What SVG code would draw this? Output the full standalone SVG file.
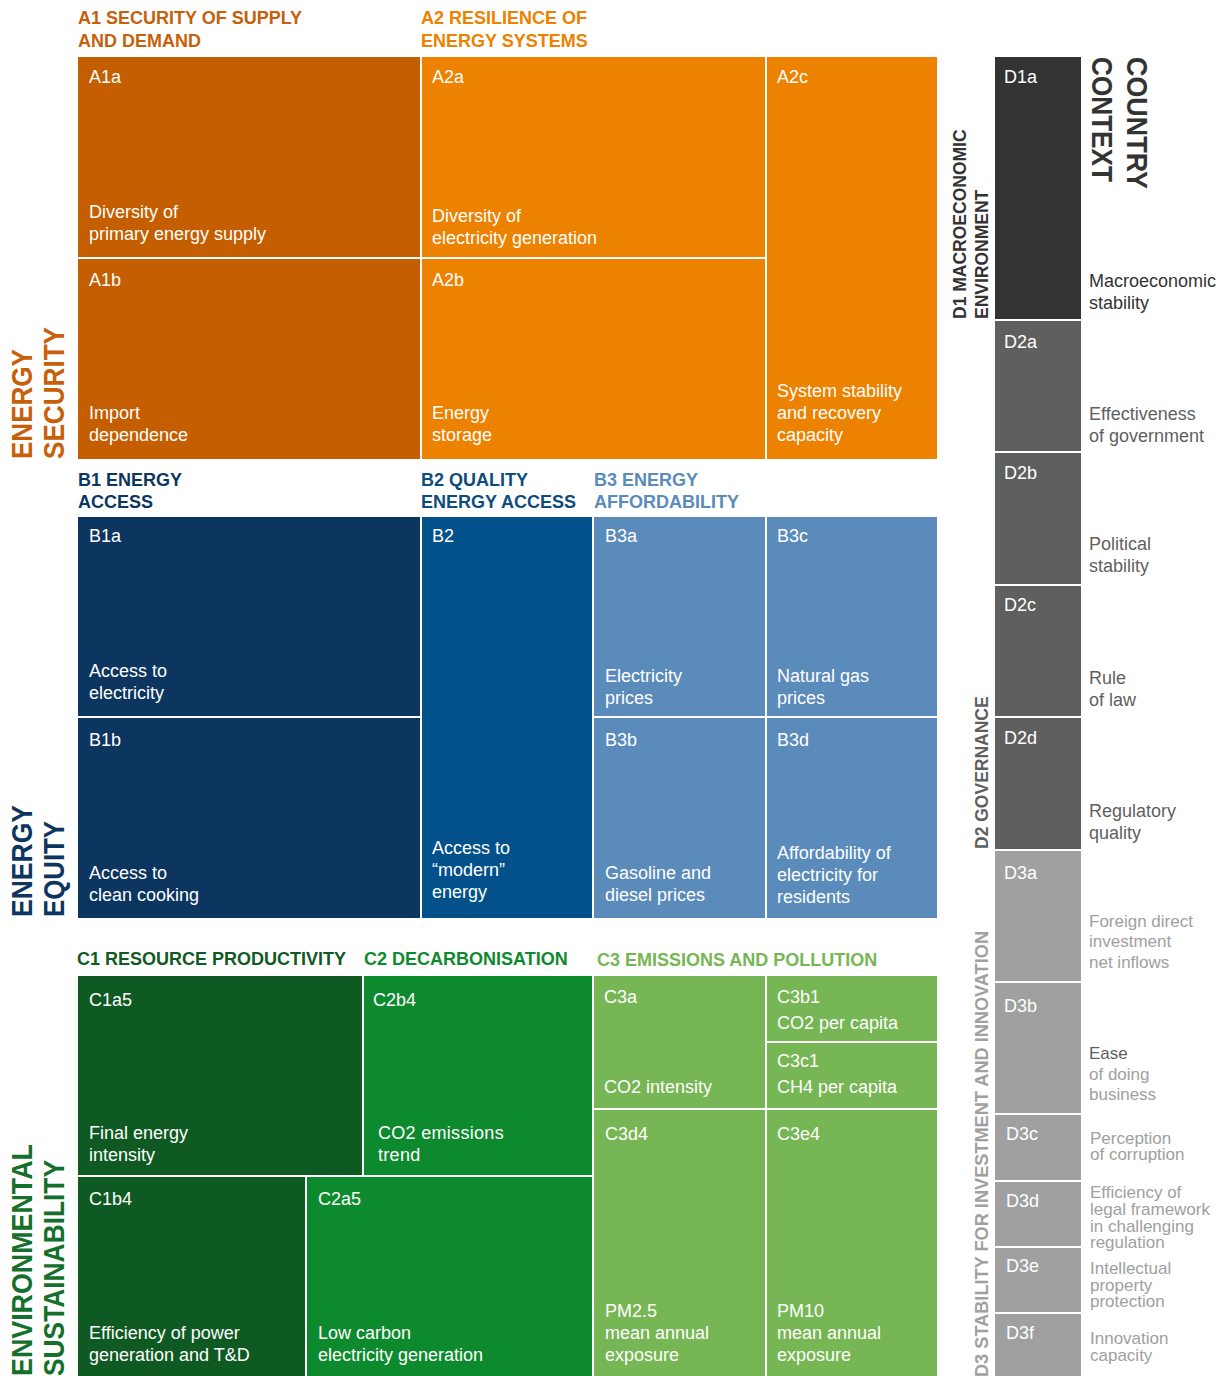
<svg xmlns="http://www.w3.org/2000/svg" width="1226" height="1376" viewBox="0 0 1226 1376">
<style>
text{font-family:"Liberation Sans",Arial,sans-serif}
.c{font-size:18px;fill:#fff}
.h{font-size:18px;font-weight:bold}
.big{font-size:30px;font-weight:bold}
.dh{font-size:17.5px;font-weight:bold}
.dl{font-size:18px}
.dl3{font-size:17px;fill:#a0a0a0}
rect{stroke:#fff;stroke-width:2}
.a1{fill:#c45e00}.a2{fill:#ec8200}
.b1{fill:#0c3660}.b2{fill:#02518a}.b3{fill:#5a8bbb}
.k1{fill:#0f5a22}.k2{fill:#0e8a2e}.k3{fill:#76b654}
.d1{fill:#333333}.d2{fill:#5f5f5f}.d3{fill:#a0a0a0}
</style>
<rect x="0" y="0" width="1226" height="1376" fill="#fff" stroke="none"/>

<g id="pillar-labels">
<text class="big" fill="#c8600a" transform="translate(32,459) rotate(-90)"><tspan x="0" y="0" textLength="110" lengthAdjust="spacingAndGlyphs">ENERGY</tspan><tspan x="0" y="32" textLength="132" lengthAdjust="spacingAndGlyphs">SECURITY</tspan></text>
<text class="big" fill="#0c3660" transform="translate(32,917) rotate(-90)"><tspan x="0" y="0" textLength="112" lengthAdjust="spacingAndGlyphs">ENERGY</tspan><tspan x="0" y="32" textLength="96" lengthAdjust="spacingAndGlyphs">EQUITY</tspan></text>
<text class="big" fill="#14702b" transform="translate(32,1376) rotate(-90)"><tspan x="0" y="0" textLength="232" lengthAdjust="spacingAndGlyphs">ENVIRONMENTAL</tspan><tspan x="0" y="32" textLength="216" lengthAdjust="spacingAndGlyphs">SUSTAINABILITY</tspan></text>
<text class="big" fill="#333" transform="translate(1127,57) rotate(90)"><tspan x="0" y="0" textLength="132" lengthAdjust="spacingAndGlyphs">COUNTRY</tspan><tspan x="0" y="35" textLength="125" lengthAdjust="spacingAndGlyphs">CONTEXT</tspan></text>
</g>

<g id="headings">
<text class="h" fill="#c6600a"><tspan x="78" y="24">A1 SECURITY OF SUPPLY</tspan><tspan x="78" y="47">AND DEMAND</tspan></text>
<text class="h" fill="#ec8200"><tspan x="421" y="24">A2 RESILIENCE OF</tspan><tspan x="421" y="47">ENERGY SYSTEMS</tspan></text>
<text class="h" fill="#0c3660"><tspan x="78" y="486">B1 ENERGY</tspan><tspan x="78" y="508">ACCESS</tspan></text>
<text class="h" fill="#0f4c7e"><tspan x="421" y="486">B2 QUALITY</tspan><tspan x="421" y="508">ENERGY ACCESS</tspan></text>
<text class="h" fill="#5a8bbb"><tspan x="594" y="486">B3 ENERGY</tspan><tspan x="594" y="508">AFFORDABILITY</tspan></text>
<text class="h" fill="#0f5a22" x="77" y="965">C1 RESOURCE PRODUCTIVITY</text>
<text class="h" fill="#0e8a2e" x="364" y="965">C2 DECARBONISATION</text>
<text class="h" fill="#76b654" x="597" y="966">C3 EMISSIONS AND POLLUTION</text>
<text class="dh" fill="#333" transform="translate(966,319) rotate(-90)"><tspan x="0" y="0">D1 MACROECONOMIC</tspan><tspan x="0" y="22">ENVIRONMENT</tspan></text>
<text class="dh" fill="#5f5f5f" transform="translate(988,849) rotate(-90)">D2 GOVERNANCE</text>
<text class="dh" fill="#a0a0a0" transform="translate(988,1377) rotate(-90)" textLength="446" lengthAdjust="spacingAndGlyphs">D3 STABILITY FOR INVESTMENT AND INNOVATION</text>
</g>

<g id="A1a"><rect class="a1" x="77" y="56" width="344" height="202"/><text class="c" x="89" y="83">A1a</text><text class="c"><tspan x="89" y="218">Diversity of</tspan><tspan x="89" y="240">primary energy supply</tspan></text></g>
<g id="A1b"><rect class="a1" x="77" y="258" width="344" height="202"/><text class="c" x="89" y="286">A1b</text><text class="c"><tspan x="89" y="419">Import</tspan><tspan x="89" y="441">dependence</tspan></text></g>
<g id="A2a"><rect class="a2" x="421" y="56" width="345" height="202"/><text class="c" x="432" y="83">A2a</text><text class="c"><tspan x="432" y="222">Diversity of</tspan><tspan x="432" y="244">electricity generation</tspan></text></g>
<g id="A2b"><rect class="a2" x="421" y="258" width="345" height="202"/><text class="c" x="432" y="286">A2b</text><text class="c"><tspan x="432" y="419">Energy</tspan><tspan x="432" y="441">storage</tspan></text></g>
<g id="A2c"><rect class="a2" x="766" y="56" width="172" height="404"/><text class="c" x="777" y="83">A2c</text><text class="c"><tspan x="777" y="397">System stability</tspan><tspan x="777" y="419">and recovery</tspan><tspan x="777" y="441">capacity</tspan></text></g>

<g id="B1a"><rect class="b1" x="77" y="516" width="344" height="201"/><text class="c" x="89" y="542">B1a</text><text class="c"><tspan x="89" y="677">Access to</tspan><tspan x="89" y="699">electricity</tspan></text></g>
<g id="B1b"><rect class="b1" x="77" y="717" width="344" height="202"/><text class="c" x="89" y="746">B1b</text><text class="c"><tspan x="89" y="879">Access to</tspan><tspan x="89" y="901">clean cooking</tspan></text></g>
<g id="B2"><rect class="b2" x="421" y="516" width="172" height="403"/><text class="c" x="432" y="542">B2</text><text class="c"><tspan x="432" y="854">Access to</tspan><tspan x="432" y="876">“modern”</tspan><tspan x="432" y="898">energy</tspan></text></g>
<g id="B3a"><rect class="b3" x="593" y="516" width="173" height="201"/><text class="c" x="605" y="542">B3a</text><text class="c"><tspan x="605" y="682">Electricity</tspan><tspan x="605" y="704">prices</tspan></text></g>
<g id="B3c"><rect class="b3" x="766" y="516" width="172" height="201"/><text class="c" x="777" y="542">B3c</text><text class="c"><tspan x="777" y="682">Natural gas</tspan><tspan x="777" y="704">prices</tspan></text></g>
<g id="B3b"><rect class="b3" x="593" y="717" width="173" height="202"/><text class="c" x="605" y="746">B3b</text><text class="c"><tspan x="605" y="879">Gasoline and</tspan><tspan x="605" y="901">diesel prices</tspan></text></g>
<g id="B3d"><rect class="b3" x="766" y="717" width="172" height="202"/><text class="c" x="777" y="746">B3d</text><text class="c"><tspan x="777" y="859">Affordability of</tspan><tspan x="777" y="881">electricity for</tspan><tspan x="777" y="903">residents</tspan></text></g>

<g id="C1a5"><rect class="k1" x="77" y="975" width="286" height="201"/><text class="c" x="89" y="1006">C1a5</text><text class="c"><tspan x="89" y="1139">Final energy</tspan><tspan x="89" y="1161">intensity</tspan></text></g>
<g id="C2b4"><rect class="k2" x="363" y="975" width="230" height="201"/><text class="c" x="373" y="1006">C2b4</text><text class="c" letter-spacing="0.3"><tspan x="378" y="1139">CO2 emissions</tspan><tspan x="378" y="1161">trend</tspan></text></g>
<g id="C1b4"><rect class="k1" x="77" y="1176" width="229" height="202"/><text class="c" x="89" y="1205">C1b4</text><text class="c"><tspan x="89" y="1339">Efficiency of power</tspan><tspan x="89" y="1361">generation and T&amp;D</tspan></text></g>
<g id="C2a5"><rect class="k2" x="306" y="1176" width="287" height="202"/><text class="c" x="318" y="1205">C2a5</text><text class="c"><tspan x="318" y="1339">Low carbon</tspan><tspan x="318" y="1361">electricity generation</tspan></text></g>
<g id="C3a"><rect class="k3" x="593" y="975" width="173" height="134"/><text class="c" x="604" y="1003">C3a</text><text class="c" x="604" y="1093">CO2 intensity</text></g>
<g id="C3b1"><rect class="k3" x="766" y="975" width="172" height="67"/><text class="c" x="777" y="1003">C3b1</text><text class="c" x="777" y="1029">CO2 per capita</text></g>
<g id="C3c1"><rect class="k3" x="766" y="1042" width="172" height="67"/><text class="c" x="777" y="1067">C3c1</text><text class="c" x="777" y="1093">CH4 per capita</text></g>
<g id="C3d4"><rect class="k3" x="593" y="1109" width="173" height="269"/><text class="c" x="605" y="1140">C3d4</text><text class="c"><tspan x="605" y="1317">PM2.5</tspan><tspan x="605" y="1339">mean annual</tspan><tspan x="605" y="1361">exposure</tspan></text></g>
<g id="C3e4"><rect class="k3" x="766" y="1109" width="172" height="269"/><text class="c" x="777" y="1140">C3e4</text><text class="c"><tspan x="777" y="1317">PM10</tspan><tspan x="777" y="1339">mean annual</tspan><tspan x="777" y="1361">exposure</tspan></text></g>

<g id="D1a"><rect class="d1" x="994" y="56" width="88" height="264"/><text class="c" x="1004" y="83">D1a</text><text class="dl" fill="#333"><tspan x="1089" y="287">Macroeconomic</tspan><tspan x="1089" y="309">stability</tspan></text></g>
<g id="D2a"><rect class="d2" x="994" y="320" width="88" height="132"/><text class="c" x="1004" y="348">D2a</text><text class="dl" fill="#5f5f5f"><tspan x="1089" y="420">Effectiveness</tspan><tspan x="1089" y="442">of government</tspan></text></g>
<g id="D2b"><rect class="d2" x="994" y="452" width="88" height="133"/><text class="c" x="1004" y="479">D2b</text><text class="dl" fill="#5f5f5f"><tspan x="1089" y="550">Political</tspan><tspan x="1089" y="572">stability</tspan></text></g>
<g id="D2c"><rect class="d2" x="994" y="585" width="88" height="132"/><text class="c" x="1004" y="611">D2c</text><text class="dl" fill="#5f5f5f"><tspan x="1089" y="684">Rule</tspan><tspan x="1089" y="706">of law</tspan></text></g>
<g id="D2d"><rect class="d2" x="994" y="717" width="88" height="133"/><text class="c" x="1004" y="744">D2d</text><text class="dl" fill="#5f5f5f"><tspan x="1089" y="817">Regulatory</tspan><tspan x="1089" y="839">quality</tspan></text></g>
<g id="D3a"><rect class="d3" x="994" y="850" width="88" height="132"/><text class="c" x="1004" y="879">D3a</text><text class="dl3"><tspan x="1089" y="927">Foreign direct</tspan><tspan x="1089" y="947">investment</tspan><tspan x="1089" y="968">net inflows</tspan></text></g>
<g id="D3b"><rect class="d3" x="994" y="982" width="88" height="132"/><text class="c" x="1004" y="1012">D3b</text><text class="dl3"><tspan x="1089" y="1059" fill="#5f5f5f">Ease</tspan><tspan x="1089" y="1080">of doing</tspan><tspan x="1089" y="1100">business</tspan></text></g>
<g id="D3c"><rect class="d3" x="994" y="1114" width="88" height="67"/><text class="c" x="1006" y="1140">D3c</text><text class="dl3"><tspan x="1090" y="1144">Perception</tspan><tspan x="1090" y="1160">of corruption</tspan></text></g>
<g id="D3d"><rect class="d3" x="994" y="1181" width="88" height="66"/><text class="c" x="1006" y="1207">D3d</text><text class="dl3"><tspan x="1090" y="1198">Efficiency of</tspan><tspan x="1090" y="1215">legal framework</tspan><tspan x="1090" y="1232">in challenging</tspan><tspan x="1090" y="1248">regulation</tspan></text></g>
<g id="D3e"><rect class="d3" x="994" y="1247" width="88" height="66"/><text class="c" x="1006" y="1272">D3e</text><text class="dl3"><tspan x="1090" y="1274">Intellectual</tspan><tspan x="1090" y="1291">property</tspan><tspan x="1090" y="1307">protection</tspan></text></g>
<g id="D3f"><rect class="d3" x="994" y="1313" width="88" height="65"/><text class="c" x="1006" y="1339">D3f</text><text class="dl3"><tspan x="1090" y="1344">Innovation</tspan><tspan x="1090" y="1361">capacity</tspan></text></g>
</svg>
